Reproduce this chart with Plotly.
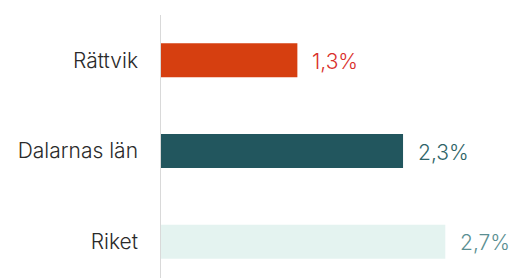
import plotly.graph_objects as go

categories = ["Rättvik", "Dalarnas län", "Riket"]
values = [1.3, 2.3, 2.7]
value_labels = ["1,3%", "2,3%", "2,7%"]
bar_colors = ["#d63f10", "#22565e", "#e4f3f0"]
label_colors = ["#d9302c", "#2f6468", "#5b8f92"]

fig = go.Figure()
fig.add_trace(go.Bar(
    y=categories, x=values, orientation="h",
    marker=dict(color=bar_colors, line=dict(width=0)),
    width=0.375, hoverinfo="skip",
))
for c, v, t, col in zip(categories, values, value_labels, label_colors):
    fig.add_annotation(x=v, y=c, text=t, showarrow=False, xanchor="left",
                       xshift=13, yshift=-1,
                       font=dict(family="Inter", size=21, color=col, weight=300))

fig.update_layout(
    width=514, height=278,
    margin=dict(l=160, r=0, t=15, b=0, autoexpand=False),
    paper_bgcolor="white", plot_bgcolor="white",
    showlegend=False,
    xaxis=dict(range=[0, 3.35], visible=False, automargin=False),
    yaxis=dict(categoryorder="array", categoryarray=categories,
               range=[2.4, -0.5], showgrid=False, zeroline=False,
               showline=False, ticks="", ticklabelstandoff=21, automargin=False,
               tickfont=dict(family="Inter", size=21, color="#2a2a2a", weight=300)),
    shapes=[dict(type="line", xref="x", yref="paper", x0=0, x1=0, y0=0, y1=1,
                 line=dict(color="#d9d9d9", width=2))],
)
fig.write_html("out.html", config={"displayModeBar": False},
               post_script="document.body.style.margin='0';document.body.style.overflow='hidden';")
